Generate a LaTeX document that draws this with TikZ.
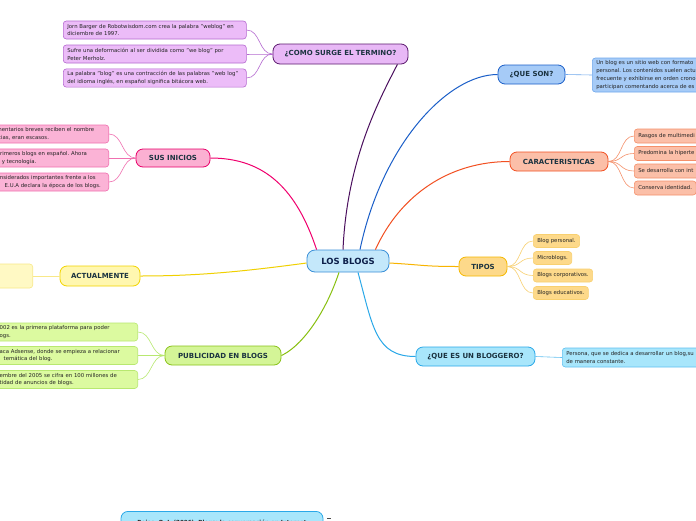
\documentclass[tikz,border=0pt]{standalone}
\usepackage{fontspec}
\setmainfont{DejaVu Sans}
\usetikzlibrary{calc}
\definecolor{maintext}{HTML}{1B3340}
\definecolor{navy}{HTML}{0C1F4A}
\definecolor{subtext}{HTML}{222222}
\definecolor{rootF}{HTML}{C4E8FB}\definecolor{rootD}{HTML}{3A90D8}
\definecolor{purF}{HTML}{E8B8F6}\definecolor{purD}{HTML}{5C1A6E}\definecolor{purC}{HTML}{4B0F5E}
\definecolor{purSF}{HTML}{ECBCF8}\definecolor{purSD}{HTML}{B56AD0}
\definecolor{pinF}{HTML}{FBB0D2}\definecolor{pinD}{HTML}{E8006A}\definecolor{pinC}{HTML}{F0006E}
\definecolor{pinSF}{HTML}{FBB3D6}\definecolor{pinSD}{HTML}{F070B0}
\definecolor{yelF}{HTML}{FFF7B0}\definecolor{yelD}{HTML}{F2D400}\definecolor{yelC}{HTML}{F0D000}
\definecolor{yelSF}{HTML}{FFF9C4}\definecolor{yelSD}{HTML}{F8E888}
\definecolor{grnF}{HTML}{D4F597}\definecolor{grnD}{HTML}{8AC21A}\definecolor{grnC}{HTML}{88C010}
\definecolor{grnSF}{HTML}{DCFAA0}\definecolor{grnSD}{HTML}{B8E870}
\definecolor{bluF}{HTML}{A6CBF7}\definecolor{bluD}{HTML}{1A5EC8}\definecolor{bluC}{HTML}{1A5EC8}
\definecolor{bluSD}{HTML}{70A8EC}
\definecolor{oraF}{HTML}{FBBFA8}\definecolor{oraD}{HTML}{F25022}\definecolor{oraC}{HTML}{F25022}
\definecolor{oraSD}{HTML}{F5906A}
\definecolor{tipF}{HTML}{FDD98A}\definecolor{tipD}{HTML}{F5B800}\definecolor{tipC}{HTML}{F8B400}
\definecolor{tipSD}{HTML}{F8D070}
\definecolor{cyaF}{HTML}{A8E6FB}\definecolor{cyaD}{HTML}{2AA8E8}\definecolor{cyaC}{HTML}{2AA8E8}
\definecolor{cyaSD}{HTML}{60C0F0}
\begin{document}
\frenchspacing
\begin{tikzpicture}[x=1pt,y=-1pt,
  mainbox/.style={draw, rounded corners=7pt, line width=0.8pt, font=\bfseries\fontsize{7}{8}\selectfont, text=maintext, minimum height=19pt, inner sep=0pt, align=center},
  subbox/.style={draw, rounded corners=3pt, line width=0.6pt, font=\fontsize{5.35}{7.8}\selectfont, text=subtext, align=left, inner xsep=4pt, inner ysep=2.5pt},
  conn/.style={line width=1pt},
  subconn/.style={line width=0.6pt}]
\useasboundingbox (0,0) rectangle (696,520);
\fill[white] (0,0) rectangle (696,520);
\clip (0,0) rectangle (696,520);

% root
\node[mainbox, fill=rootF, draw=rootD, minimum width=82pt, minimum height=22pt, rounded corners=8pt, font=\bfseries\fontsize{8.5}{10}\selectfont, text=navy] (root) at (348,261) {LOS BLOGS};

% COMO SURGE
\node[mainbox, fill=purF, draw=purD, minimum width=135pt, minimum height=20pt] (como) at (340.5,54) {¿COMO SURGE EL TERMINO?};
\node[subbox, anchor=west, fill=purSF, draw=purSD, text width=175pt, minimum height=18pt] (c1) at (63,30) {Jorn Barger de Robotwisdom.com crea la palabra "weblog" en\\diciembre de 1997.};
\node[subbox, anchor=west, fill=purSF, draw=purSD, text width=175pt, minimum height=18pt] (c2) at (63,54) {Sufre una deformación al ser dividida como "we blog" por\\Peter Merholz.};
\node[subbox, anchor=west, fill=purSF, draw=purSD, text width=175pt, minimum height=18pt] (c3) at (63,78) {La palabra "blog" es una contracción de las palabras "web log"\\del idioma inglés, en español significa bitácora web.};
\foreach \s in {c1,c2,c3}{\draw[subconn, purSD] (como.west) .. controls +(-14,0) and +(14,0) .. (\s.east);}

% SUS INICIOS
\node[mainbox, fill=pinF, draw=pinD, minimum width=74pt, minimum height=18pt] (sus) at (173,158) {SUS INICIOS};
\node[subbox, anchor=east, fill=pinSF, draw=pinSD, text width=108pt, minimum height=18pt] (s1) at (109,134) {mentarios breves reciben el nombre\\icias, eran escasos.};
\node[subbox, anchor=east, fill=pinSF, draw=pinSD, text width=108pt, minimum height=18pt] (s2) at (109,158) {primeros blogs en español. Ahora\\a y tecnología.};
\node[subbox, anchor=east, fill=pinSF, draw=pinSD, text width=108pt, minimum height=18pt] (s3) at (109,182) {onsiderados importantes frente a los\\\makebox[8pt]{}E.U.A declara la época de los blogs.};
\foreach \s in {s1,s2,s3}{\draw[subconn, pinSD] (sus.west) .. controls +(-14,0) and +(14,0) .. (\s.east);}

% ACTUALMENTE
\node[mainbox, fill=yelF, draw=yelD, minimum width=80pt, minimum height=20pt] (act) at (100,276) {ACTUALMENTE};
\node[subbox, anchor=east, fill=yelSF, draw=yelSD, minimum width=60pt, minimum height=24pt] (a1) at (33,276) {};
\draw[subconn, yelSD] (act.west) -- (a1.east);

% PUBLICIDAD
\node[mainbox, fill=grnF, draw=grnD, minimum width=116pt, minimum height=19pt] (pub) at (223,355.5) {PUBLICIDAD EN BLOGS};
\node[subbox, anchor=east, fill=grnSF, draw=grnSD, text width=134pt, minimum height=18pt] (p1) at (138,332) {002 es la primera plataforma para poder\\ogs.};
\node[subbox, anchor=east, fill=grnSF, draw=grnSD, text width=134pt, minimum height=18pt] (p2) at (138,355.5) {aca Adsense, donde se empieza a relacionar\\\makebox[4pt]{}temática del blog.};
\node[subbox, anchor=east, fill=grnSF, draw=grnSD, text width=134pt, minimum height=18pt] (p3) at (138,379.5) {embre del 2005 se cifra en 100 millones de\\tidad de anuncios de blogs.};
\foreach \s in {p1,p2,p3}{\draw[subconn, grnSD] (pub.west) .. controls +(-14,0) and +(14,0) .. (\s.east);}

% QUE SON
\node[mainbox, fill=bluF, draw=bluD, minimum width=67pt, minimum height=19pt] (qs) at (531.5,74.5) {¿QUE SON?};
\node[subbox, anchor=west, fill=bluF, draw=bluSD, text width=140pt, minimum height=34pt] (q1) at (592,75) {Un blog es un sitio web con formato\\personal. Los contenidos suelen actu\\frecuente y exhibirse en orden crono\\participan comentando acerca de es};
\draw[subconn, bluSD] (qs.east) -- (q1.west);

% CARACTERISTICAS
\node[mainbox, fill=oraF, draw=oraD, minimum width=98pt, minimum height=19pt] (car) at (559,161.5) {CARACTERISTICAS};
\node[subbox, anchor=west, fill=oraF, draw=oraSD, minimum width=90pt, minimum height=14pt, inner ysep=2pt, text width=82pt] (k1) at (634,136) {Rasgos de multimedi};
\node[subbox, anchor=west, fill=oraF, draw=oraSD, minimum width=90pt, minimum height=14pt, inner ysep=2pt, text width=82pt] (k2) at (634,153.5) {Predomina la hiperte};
\node[subbox, anchor=west, fill=oraF, draw=oraSD, minimum width=90pt, minimum height=14pt, inner ysep=2pt, text width=82pt] (k3) at (634,171) {Se desarrolla con int};
\node[subbox, anchor=west, fill=oraF, draw=oraSD, minimum height=14pt, inner ysep=2pt] (k4) at (634,188) {Conserva identidad.};
\foreach \s in {k1,k2,k3,k4}{\draw[subconn, oraSD] (car.east) .. controls +(14,0) and +(-14,0) .. (\s.west);}

% TIPOS
\node[mainbox, fill=tipF, draw=tipD, minimum width=48pt, minimum height=19pt] (tip) at (483,266.5) {TIPOS};
\node[subbox, anchor=west, fill=tipF, draw=tipSD, minimum height=13pt, inner ysep=2pt] (t1) at (533,241) {Blog personal.};
\node[subbox, anchor=west, fill=tipF, draw=tipSD, minimum height=13pt, inner ysep=2pt] (t2) at (533,258) {Microblogs.};
\node[subbox, anchor=west, fill=tipF, draw=tipSD, minimum height=13pt, inner ysep=2pt] (t3) at (533,275.5) {Blogs corporativos.};
\node[subbox, anchor=west, fill=tipF, draw=tipSD, minimum height=13pt, inner ysep=2pt] (t4) at (533,293) {Blogs educativos.};
\foreach \s in {t1,t2,t3,t4}{\draw[subconn, tipSD] (tip.east) .. controls +(14,0) and +(-14,0) .. (\s.west);}

% BLOGGERO
\node[mainbox, fill=cyaF, draw=cyaD, minimum width=119pt, minimum height=19pt] (blg) at (475.5,356.5) {¿QUE ES UN BLOGGERO?};
\node[subbox, anchor=west, fill=cyaF, draw=cyaSD, text width=150pt, minimum height=19pt] (b1) at (562,357.5) {Persona, que se dedica a desarrollar un blog,su\\de manera constante.};
\draw[subconn, cyaSD] (blg.east) -- (b1.west);

% bottom reference
\node[mainbox, anchor=north, fill=cyaF, draw=cyaD, minimum width=202pt, minimum height=22pt, font=\fontsize{5.6}{7}\selectfont\bfseries, text=subtext, inner ysep=5pt] (ref) at (222,511) {Rojas, O. I. (2006). Blogs: la conversación en Internet};
\draw[line width=0.6pt, black!70] ($(ref.north east)+(4,7)$) -- +(4,0);

% main connectors
\draw[conn, purC] ($(root.north)+(-5,0)$) .. controls +(4,-90) and +(-18,35) .. ($(como.south east)+(-11,0)$);
\draw[conn, pinC] ($(root.north west)+(10,0)$) .. controls +(-20,-60) and +(55,0) .. (sus.east);
\draw[conn, yelC] ($(root.west)+(0,2)$) .. controls +(-60,8) and +(60,0) .. (act.east);
\draw[conn, grnC] ($(root.south)+(-9,0)$) .. controls +(-15,45) and +(18,-8) .. (pub.east);
\draw[conn, bluC] ($(root.north)+(12,0)$) .. controls +(22,-105) and +(-50,0) .. (qs.west);
\draw[conn, oraC] ($(root.north east)+(-14,0)$) .. controls +(25,-55) and +(-60,0) .. (car.west);
\draw[conn, tipC] ($(root.east)+(0,2)$) .. controls +(35,2) and +(-35,0) .. (tip.west);
\draw[conn, cyaC] ($(root.south)+(10,0)$) .. controls +(15,55) and +(-40,0) .. (blg.west);
\end{tikzpicture}
\end{document}
